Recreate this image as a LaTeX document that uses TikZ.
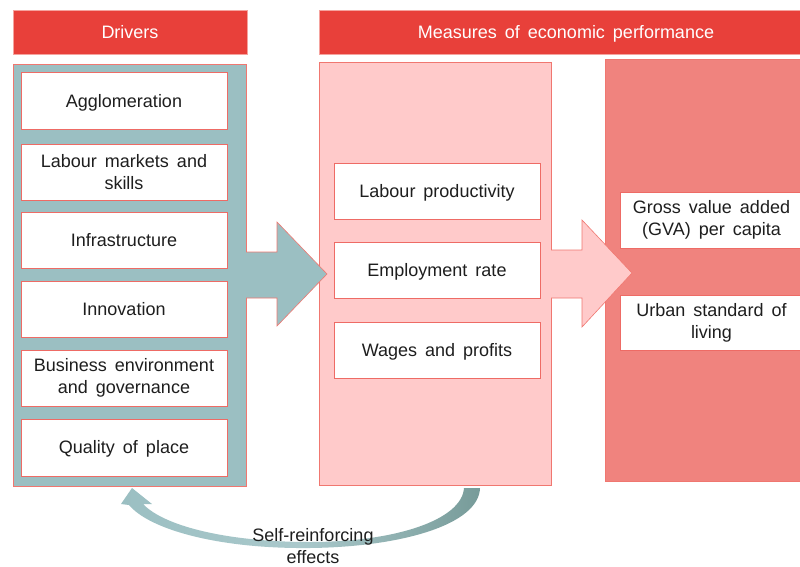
\documentclass[tikz,border=0pt]{standalone}
\usepackage{fontspec}
\setmainfont{Liberation Sans}[WordSpace=1.6]
\usetikzlibrary{positioning}

\definecolor{hdrred}{HTML}{E8403A}
\definecolor{hdredge}{HTML}{F5A39E}
\definecolor{edgered}{HTML}{F07770}
\definecolor{boxedge}{HTML}{EE6B65}
\definecolor{tealfill}{HTML}{9BBFC2}
\definecolor{pinkfill}{HTML}{FFCACA}
\definecolor{salmon}{HTML}{F0837E}
\definecolor{tealdark}{HTML}{779B99}
\definecolor{txt}{HTML}{1E1E1E}

\tikzset{
  header/.style={fill=hdrred, draw=hdredge, line width=0.8pt, text=white,
    minimum height=44pt, inner sep=0pt, text height=13pt, text depth=-0.5pt,
    font=\fontsize{18}{22}\selectfont},
  panel/.style={draw=edgered, line width=1pt, inner sep=0pt},
  wbox/.style={fill=white, draw=boxedge, line width=1pt, text=txt,
    inner sep=0pt, align=center, font=\fontsize{18}{22}\selectfont},
  oneline/.style={wbox, text height=12.9pt, text depth=-2.2pt},
  blockarrow/.style={draw=edgered, line width=0.6pt},
}

\begin{document}
\begin{tikzpicture}[x=1pt, y=-1pt]
  \clip (0,0) rectangle (800,567);
  \fill[white] (0,0) rectangle (800,567);

  % column headers
  \node[header, minimum width=234pt] (hdrivers) at (130,32) {Drivers};
  \node[header, minimum width=494pt] (hmeasures) at (566,32) {Measures of economic performance};

  % background panels
  \node[panel, fill=tealfill, minimum width=233pt, minimum height=421pt] (lpanel) at (129.5,275.5) {};
  \node[panel, fill=pinkfill, minimum width=232pt, minimum height=422pt] (mpanel) at (435,274) {};
  \node[panel, fill=salmon, minimum width=210pt, minimum height=421pt] (rpanel) at (710,270.5) {};

  % drivers
  \node[oneline, minimum width=206pt, minimum height=57pt] (d1) at (124,101.5) {Agglomeration};
  \node[wbox, minimum width=206pt, minimum height=56pt] (d2) at (124,172) {Labour markets and\\skills};
  \node[oneline, minimum width=206pt, minimum height=56pt] (d3) at (124,240) {Infrastructure};
  \node[oneline, minimum width=206pt, minimum height=56pt] (d4) at (124,309) {Innovation};
  \node[wbox, minimum width=206pt, minimum height=56pt] (d5) at (124,378) {Business environment\\and governance};
  \node[oneline, minimum width=206pt, minimum height=57pt] (d6) at (124,447.5) {Quality of place};

  % teal block arrow into the measures panel
  \fill[tealfill] (246,252) -- (277,252) -- (277,222) -- (327,274)
    -- (277,326) -- (277,298) -- (246,298) -- cycle;
  \draw[blockarrow] (246,252) -- (277,252) -- (277,222) -- (327,274)
    -- (277,326) -- (277,298) -- (246,298);

  % intermediate measures
  \node[oneline, minimum width=206pt, minimum height=56pt] (m1) at (437,191) {Labour productivity};
  \node[oneline, minimum width=206pt, minimum height=56pt] (m2) at (437,270) {Employment rate};
  \node[oneline, minimum width=206pt, minimum height=56pt] (m3) at (437,350) {Wages and profits};

  % pink block arrow into the outcome panel
  \fill[pinkfill] (551,250) -- (582,250) -- (582,220) -- (632,273)
    -- (582,327) -- (582,298) -- (551,298) -- cycle;
  \draw[blockarrow] (551,250) -- (582,250) -- (582,220) -- (632,273)
    -- (582,327) -- (582,298) -- (551,298);

  % outcomes
  \node[wbox, minimum width=183pt, minimum height=56pt] (o1) at (711.5,220) {Gross value added\\(GVA) per capita};
  \node[wbox, minimum width=183pt, minimum height=55pt] (o2) at (711.5,322.5) {Urban standard of\\living};

  % curved feedback arrow back to the drivers
  \shade[left color=tealfill, right color=tealdark, middle color=tealfill!85!white]
    (464,488) -- (480,488)
    .. controls (479,525) and (400,547) .. (310,548)
    .. controls (220,549) and (150,530) .. (129,505)
    -- (121,504) -- (132,488) -- (152,504) -- (143,504)
    .. controls (165,527) and (230,542) .. (310,542)
    .. controls (395,542) and (462,520) .. (464,488) -- cycle;

  \node[text=txt, align=center, inner sep=0pt, font=\fontsize{18}{22}\selectfont]
    (loop) at (313,546) {Self-reinforcing\\effects};
\end{tikzpicture}
\end{document}
